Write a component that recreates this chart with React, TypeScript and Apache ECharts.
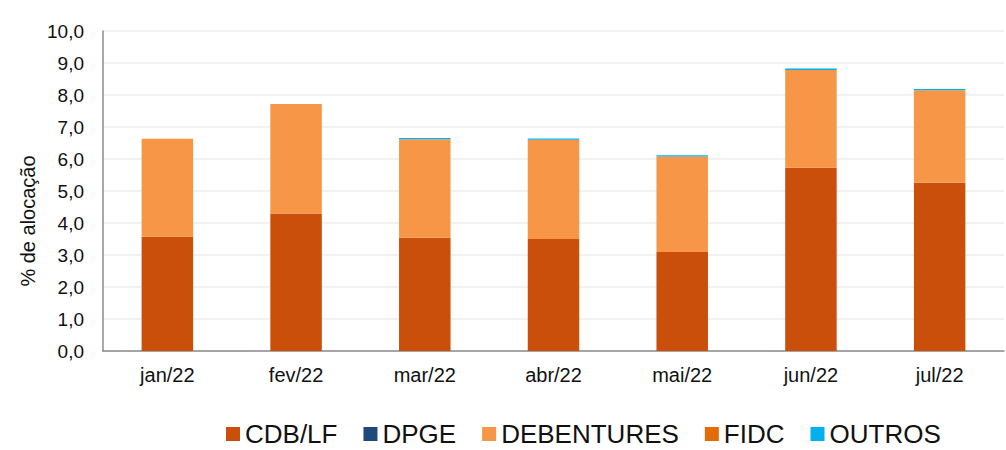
import React, { useEffect, useRef } from "react";
import * as echarts from "echarts";

const categories = ["jan/22", "fev/22", "mar/22", "abr/22", "mai/22", "jun/22", "jul/22"];
const cdbLf = [3.57, 4.3, 3.54, 3.5, 3.09, 5.73, 5.26];
const dpge = [0, 0, 0, 0, 0, 0, 0];
const debentures = [3.06, 3.42, 3.08, 3.1, 2.99, 3.05, 2.89];
const fidc = [0, 0, 0, 0, 0, 0, 0];
const outros = [0, 0, 0.04, 0.04, 0.04, 0.05, 0.04];

const seriesDefs = [
  { name: "CDB/LF", data: cdbLf, color: "#C94F0B" },
  { name: "DPGE", data: dpge, color: "#1F497D" },
  { name: "DEBENTURES", data: debentures, color: "#F79646" },
  { name: "FIDC", data: fidc, color: "#E36C09" },
  { name: "OUTROS", data: outros, color: "#00B0F0" },
];

const FONT = "'Liberation Sans', Arial, sans-serif";

export default function App() {
  const ref = useRef<HTMLDivElement>(null);
  useEffect(() => {
    if (!ref.current) return;
    const chart = echarts.init(ref.current, undefined, { renderer: "svg" });
    chart.setOption({
      animation: false,
      textStyle: { fontFamily: FONT },
      grid: { left: 103, right: 2, top: 31, bottom: 99, containLabel: false },
      legend: {
        left: 226,
        top: 421,
        itemWidth: 14,
        itemHeight: 14,
        itemGap: 26,
        icon: "rect",
        padding: 0,
        textStyle: { fontSize: 26, color: "#111", fontFamily: FONT },
        data: seriesDefs.map((s) => s.name),
      },
      xAxis: {
        type: "category",
        data: categories,
        axisLine: { lineStyle: { color: "#8c8c8c", width: 1.5 } },
        axisTick: { show: false },
        axisLabel: { fontSize: 20, color: "#111", margin: 14, fontFamily: FONT },
      },
      yAxis: {
        type: "value",
        min: 0,
        max: 10,
        interval: 1,
        axisLine: { show: true, lineStyle: { color: "#8c8c8c", width: 1.5 } },
        axisTick: { show: false },
        splitLine: { lineStyle: { color: "#ececec", width: 1.5 } },
        axisLabel: {
          fontSize: 19,
          color: "#111",
          margin: 19,
          fontFamily: FONT,
          formatter: (v: number) => v.toFixed(1).replace(".", ","),
        },
      },
      graphic: [
        {
          type: "text",
          x: 28,
          y: 221,
          rotation: Math.PI / 2,
          style: {
            text: "% de alocação",
            fontSize: 20,
            fontFamily: FONT,
            fill: "#111",
            textAlign: "center",
            textVerticalAlign: "middle",
          },
        },
      ],
      series: seriesDefs.map((s) => ({
        name: s.name,
        type: "bar",
        stack: "total",
        data: s.data,
        barWidth: "40%",
        itemStyle: { color: s.color },
      })),
    });
    return () => chart.dispose();
  }, []);
  return <div ref={ref} style={{ width: 1006, height: 450, position: "absolute", left: 0, top: 0 }} />;
}
